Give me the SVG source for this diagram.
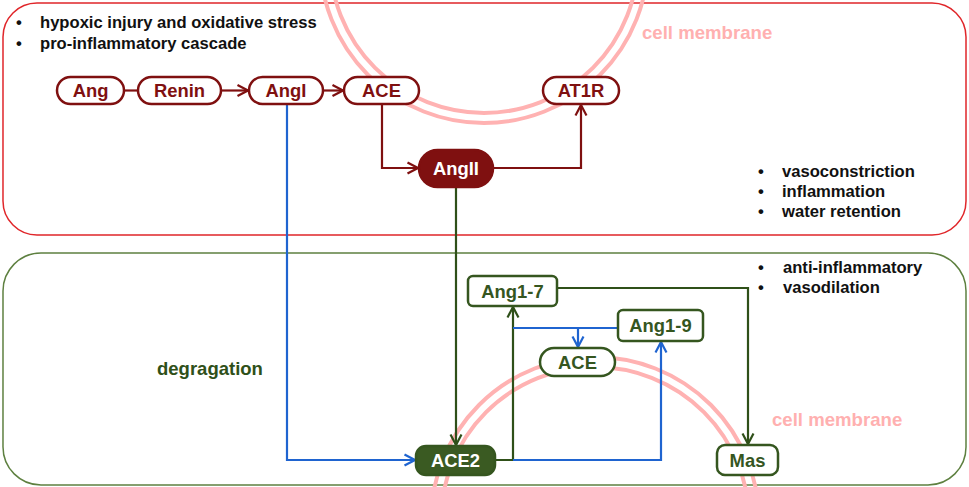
<svg xmlns="http://www.w3.org/2000/svg" width="969" height="487" viewBox="0 0 969 487">
<defs>
<style>
text{font-family:"Liberation Sans",Arial,sans-serif;font-weight:bold}
.blt{font-size:16.6px;fill:#111}
.mem{fill:none;stroke:#ffb2b2;stroke-width:4}
.memt{font-size:18.6px;fill:#ffb0b0}
.nr rect{fill:#fff;stroke:#7f1010;stroke-width:2.5}
.nr text{font-size:18.4px;fill:#7f1010;text-anchor:middle}
.ng rect{fill:#fff;stroke:#35561f;stroke-width:2.5}
.ng text{font-size:18.4px;fill:#35561f;text-anchor:middle}
.fr rect{fill:#7f1010;stroke:#7f1010;stroke-width:2.5}
.fg rect{fill:#3a5a22;stroke:#35561f;stroke-width:2.5}
.fr text,.fg text{font-size:18.4px;fill:#fff;text-anchor:middle}
.cr{fill:none;stroke:#7f1010;stroke-width:2.2}
.cg{fill:none;stroke:#2f5019;stroke-width:2.2}
.cb{fill:none;stroke:#1f64d0;stroke-width:2.2}
</style>
<marker id="ar" viewBox="0 0 14 14" refX="12.5" refY="7" markerWidth="14" markerHeight="14" markerUnits="userSpaceOnUse" orient="auto"><path d="M2,1.5 L12.5,7 L2,12.5" fill="none" stroke="#7f1010" stroke-width="2.2"/></marker>
<marker id="ag" viewBox="0 0 14 14" refX="12.5" refY="7" markerWidth="14" markerHeight="14" markerUnits="userSpaceOnUse" orient="auto"><path d="M2,1.5 L12.5,7 L2,12.5" fill="none" stroke="#2f5019" stroke-width="2.2"/></marker>
<marker id="ab" viewBox="0 0 14 14" refX="12.5" refY="7" markerWidth="14" markerHeight="14" markerUnits="userSpaceOnUse" orient="auto"><path d="M2,1.5 L12.5,7 L2,12.5" fill="none" stroke="#1f64d0" stroke-width="2.2"/></marker>
</defs>
<rect width="969" height="487" fill="#fff"/>
<g id="regions">
<rect x="3" y="3" width="963" height="232" rx="34" fill="none" stroke="#e0262a" stroke-width="1.5"/>
<rect x="3" y="253" width="963" height="232" rx="38" fill="none" stroke="#5e8040" stroke-width="1.5"/>
</g>
<g id="membranes">
<circle class="mem" cx="484" cy="-41" r="164"/>
<circle class="mem" cx="484" cy="-41" r="154"/>
<circle class="mem" cx="595" cy="521" r="164"/>
<circle class="mem" cx="595" cy="521" r="154"/>
<text class="memt" x="642" y="39">cell membrane</text>
<text class="memt" x="772" y="426">cell membrane</text>
</g>
<g id="labels">
<text class="blt" x="16" y="28">•</text><text class="blt" x="40" y="28">hypoxic injury and oxidative stress</text>
<text class="blt" x="16" y="49">•</text><text class="blt" x="40" y="49">pro-inflammatory cascade</text>
<text class="blt" x="758" y="177">•</text><text class="blt" x="782" y="177">vasoconstriction</text>
<text class="blt" x="758" y="197">•</text><text class="blt" x="782" y="197">inflammation</text>
<text class="blt" x="758" y="217">•</text><text class="blt" x="782" y="217">water retention</text>
<text class="blt" x="758" y="273">•</text><text class="blt" x="783" y="273">anti-inflammatory</text>
<text class="blt" x="758" y="293">•</text><text class="blt" x="783" y="293">vasodilation</text>
<text x="157" y="375" style="font-size:18.5px;fill:#2f5019">degragation</text>
</g>
<g id="connectors">
<path class="cr" d="M124,90.5 H138"/>
<path class="cr" d="M221,90.5 H248" marker-end="url(#ar)"/>
<path class="cr" d="M323,90.5 H343" marker-end="url(#ar)"/>
<path class="cr" d="M382,104 V168 H418" marker-end="url(#ar)"/>
<path class="cr" d="M493,168 H581 V105" marker-end="url(#ar)"/>
<path class="cb" d="M287,104 V460 H415" marker-end="url(#ab)"/>
<path class="cg" d="M456,187 V445" marker-end="url(#ag)"/>
<path class="cg" d="M495,460 H513 V307" marker-end="url(#ag)"/>
<path class="cb" d="M513,460 H661 V342" marker-end="url(#ab)"/>
<path class="cb" d="M618,328 H513"/>
<path class="cb" d="M578,328 V347" marker-end="url(#ab)"/>
<path class="cg" d="M557,288 H748 V444" marker-end="url(#ag)"/>
</g>
<g id="node-ang" class="nr"><rect x="57" y="77" width="67" height="27" rx="13.5"/><text x="90.5" y="97">Ang</text></g>
<g id="node-renin" class="nr"><rect x="138" y="77" width="83" height="27" rx="13.5"/><text x="179.5" y="97">Renin</text></g>
<g id="node-angi" class="nr"><rect x="249" y="77" width="74" height="27" rx="13.5"/><text x="286" y="97">AngI</text></g>
<g id="node-ace-top" class="nr"><rect x="344" y="77" width="75" height="27" rx="13.5"/><text x="381.5" y="97">ACE</text></g>
<g id="node-at1r" class="nr"><rect x="543" y="77" width="76" height="27" rx="13.5"/><text x="581" y="97">AT1R</text></g>
<g id="node-angii" class="fr"><rect x="419" y="150" width="74" height="37" rx="18.5"/><text x="456" y="175">AngII</text></g>
<g id="node-ang17" class="ng"><rect x="468" y="276" width="89" height="30" rx="5"/><text x="512.5" y="297.5">Ang1-7</text></g>
<g id="node-ang19" class="ng"><rect x="618" y="310" width="85" height="31" rx="5"/><text x="660.5" y="332">Ang1-9</text></g>
<g id="node-ace-bottom" class="ng"><rect x="540" y="348" width="75" height="28" rx="14"/><text x="577.5" y="368.5">ACE</text></g>
<g id="node-mas" class="ng"><rect x="717" y="445" width="61" height="30" rx="8"/><text x="747.5" y="466.5">Mas</text></g>
<g id="node-ace2" class="fg"><rect x="416" y="446" width="79" height="29" rx="10"/><text x="455.5" y="467">ACE2</text></g>
</svg>
